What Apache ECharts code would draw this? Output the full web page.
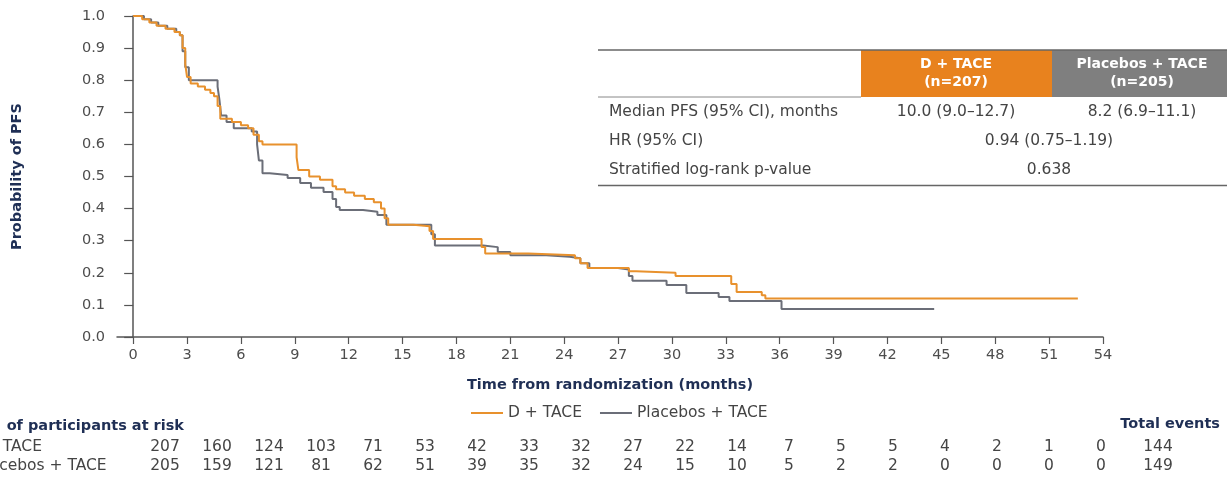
<!DOCTYPE html>
<html>
<head>
<meta charset="utf-8">
<script src="https://cdn.jsdelivr.net/npm/echarts@6/dist/echarts.min.js"></script>
<style>
  html, body { margin: 0; padding: 0; background: #ffffff; }
  #chart { width: 1227px; height: 484px; }
</style>
</head>
<body>
<div id="chart"></div>
<script>
// Kaplan–Meier progression-free survival, D + TACE vs placebos + TACE

// Step curves: [month, probability of PFS] at each drop
const dTace = [
  [0, 1.00], [0.5, 0.99], [0.9, 0.98], [1.3, 0.97], [1.8, 0.96], [2.3, 0.95], [2.6, 0.94],
  [2.75, 0.90], [2.9, 0.85], [3.0, 0.81], [3.2, 0.79], [3.6, 0.78], [4.0, 0.77], [4.3, 0.76],
  [4.5, 0.75], [4.7, 0.72], [4.85, 0.68], [5.5, 0.67], [6.0, 0.66], [6.4, 0.65], [6.7, 0.63],
  [7.0, 0.61], [7.2, 0.60], [9.1, 0.56], [9.2, 0.52], [9.8, 0.50], [10.4, 0.49], [11.1, 0.47],
  [11.3, 0.46], [11.8, 0.45], [12.3, 0.44], [12.9, 0.43], [13.4, 0.42], [13.8, 0.40], [14.0, 0.37],
  [14.2, 0.35], [15.6, 0.345], [16.5, 0.33], [16.7, 0.305], [19.4, 0.28], [19.6, 0.26],
  [22.0, 0.255], [24.6, 0.245], [24.9, 0.23], [25.3, 0.215], [27.6, 0.205], [28.0, 0.20],
  [30.2, 0.19], [33.3, 0.165], [33.6, 0.14], [35.0, 0.13], [35.2, 0.12], [52.6, 0.12]
];
const placeboTace = [
  [0, 1.00], [0.6, 0.99], [1.0, 0.98], [1.4, 0.97], [1.9, 0.96], [2.4, 0.95], [2.6, 0.94],
  [2.75, 0.89], [2.9, 0.84], [3.1, 0.80], [4.7, 0.78], [4.8, 0.74], [4.9, 0.69], [5.2, 0.67],
  [5.6, 0.65], [6.6, 0.64], [6.9, 0.60], [7.0, 0.55], [7.2, 0.51], [7.6, 0.505], [8.6, 0.495],
  [9.3, 0.48], [9.9, 0.465], [10.6, 0.452], [11.1, 0.43], [11.3, 0.405], [11.5, 0.396],
  [12.8, 0.39], [13.6, 0.38], [14.1, 0.35], [16.6, 0.32], [16.8, 0.285], [19.5, 0.28],
  [20.3, 0.265], [21.0, 0.255], [23.0, 0.25], [24.3, 0.245], [24.9, 0.23], [25.4, 0.215],
  [27.0, 0.21], [27.6, 0.19], [27.8, 0.175], [29.7, 0.162], [30.8, 0.137], [32.6, 0.125],
  [33.2, 0.112], [36.1, 0.087], [44.6, 0.087]
];

const seriesNames = ['D + TACE', 'Placebos + TACE'];
const xTicks = [0, 3, 6, 9, 12, 15, 18, 21, 24, 27, 30, 33, 36, 39, 42, 45, 48, 51, 54];

// Numbers at risk and total events
const atRiskD = [207, 160, 124, 103, 71, 53, 42, 33, 32, 27, 22, 14, 7, 5, 5, 4, 2, 1, 0];
const atRiskP = [205, 159, 121, 81, 62, 51, 39, 35, 32, 24, 15, 10, 5, 2, 2, 0, 0, 0, 0];
const totalEvents = [144, 149];

// Summary table
const tableHeader = ['D + TACE', '(n=207)', 'Placebos + TACE', '(n=205)'];
const rowLabels = ['Median PFS (95% CI), months', 'HR (95% CI)', 'Stratified log-rank p-value'];
const medianPfs = ['10.0 (9.0\u201312.7)', '8.2 (6.9\u201311.1)'];
const hazardRatio = '0.94 (0.75\u20131.19)';
const pValue = '0.638';

const FONT = 'DejaVu Sans';
const ORANGE = '#E8912D';
const GREY = '#6B6E78';
const NAVY = '#1F2F55';
const TEXT = '#444444';

const chart = echarts.init(document.getElementById('chart'), null, { renderer: 'canvas' });

function txt(x, y, text, opt) {
  return {
    type: 'text', x: x, y: y, silent: true,
    style: Object.assign({
      text: text, fill: TEXT, font: '15.5px "' + FONT + '"',
      textAlign: 'left', textVerticalAlign: 'middle'
    }, opt || {})
  };
}
function hline(x1, x2, y, color, w) {
  return { type: 'line', silent: true, shape: { x1: x1, y1: y, x2: x2, y2: y },
           style: { stroke: color, lineWidth: w } };
}

const graphics = [];

// Summary table (top right)
graphics.push({ type: 'rect', silent: true, shape: { x: 861, y: 50, width: 191, height: 47 }, style: { fill: '#E8821E' } });
graphics.push({ type: 'rect', silent: true, shape: { x: 1052, y: 50, width: 175, height: 47 }, style: { fill: '#7F7F7F' } });
graphics.push(hline(598, 1227, 50, '#666666', 1.5));
graphics.push(hline(598, 861, 97, '#888888', 1));
graphics.push(hline(598, 1227, 185.5, '#666666', 1.5));
const hdrFont = 'bold 14px "' + FONT + '"';
graphics.push(txt(956, 64, tableHeader[0], { fill: '#ffffff', font: hdrFont, textAlign: 'center' }));
graphics.push(txt(956, 82, tableHeader[1], { fill: '#ffffff', font: hdrFont, textAlign: 'center' }));
graphics.push(txt(1142, 64, tableHeader[2], { fill: '#ffffff', font: hdrFont, textAlign: 'center' }));
graphics.push(txt(1142, 82, tableHeader[3], { fill: '#ffffff', font: hdrFont, textAlign: 'center' }));
const rowY = [112, 141, 170];
rowLabels.forEach(function (l, i) { graphics.push(txt(609, rowY[i], l)); });
graphics.push(txt(956, rowY[0], medianPfs[0], { textAlign: 'center' }));
graphics.push(txt(1142, rowY[0], medianPfs[1], { textAlign: 'center' }));
graphics.push(txt(1049, rowY[1], hazardRatio, { textAlign: 'center' }));
graphics.push(txt(1049, rowY[2], pValue, { textAlign: 'center' }));

// Numbers at risk table (bottom)
const boldFont = 'bold 14.5px "' + FONT + '"';
graphics.push(txt(-26, 426, 'No. of participants at risk', { fill: NAVY, font: boldFont }));
graphics.push(txt(-32, 447, seriesNames[0]));
graphics.push(txt(-24, 466, seriesNames[1]));
const colStart = 165, colStep = 52;
atRiskD.forEach(function (v, i) {
  graphics.push(txt(colStart + i * colStep, 447, String(v), { textAlign: 'center' }));
});
atRiskP.forEach(function (v, i) {
  graphics.push(txt(colStart + i * colStep, 466, String(v), { textAlign: 'center' }));
});
graphics.push(txt(1220, 424, 'Total events', { fill: NAVY, font: boldFont, textAlign: 'right' }));
graphics.push(txt(1158, 447, String(totalEvents[0]), { textAlign: 'center' }));
graphics.push(txt(1158, 466, String(totalEvents[1]), { textAlign: 'center' }));

const option = {
  animation: false,
  backgroundColor: '#ffffff',
  textStyle: { fontFamily: FONT },
  grid: { left: 117, right: 124, top: 16, bottom: 147, containLabel: false },
  legend: {
    data: seriesNames,
    left: 466, top: 400,
    icon: 'rect', itemWidth: 32, itemHeight: 2, itemGap: 18,
    textStyle: { fontFamily: FONT, fontSize: 15.5, color: TEXT }
  },
  xAxis: {
    type: 'value', min: -0.9, max: 54,
    name: 'Time from randomization (months)',
    nameLocation: 'middle', nameGap: 41,
    nameTextStyle: { fontFamily: FONT, fontSize: 14.5, fontWeight: 'bold', color: NAVY },
    axisLine: { show: true, onZero: false, lineStyle: { color: '#555555', width: 1.5 } },
    axisTick: { show: true, inside: false, length: 7, customValues: xTicks, lineStyle: { color: '#555555', width: 1.2 } },
    axisLabel: { customValues: xTicks, margin: 11, fontFamily: FONT, fontSize: 14.5, color: '#4d4d4d' },
    splitLine: { show: false }
  },
  yAxis: {
    type: 'value', min: 0, max: 1, interval: 0.1,
    name: 'Probability of PFS',
    nameLocation: 'middle', nameGap: 92, nameRotate: 90,
    nameTextStyle: { fontFamily: FONT, fontSize: 14.5, fontWeight: 'bold', color: NAVY },
    axisLine: { show: true, lineStyle: { color: '#555555', width: 1.5 } },
    axisTick: { show: true, inside: false, length: 9, lineStyle: { color: '#555555', width: 1.2 } },
    axisLabel: { margin: 12, fontFamily: FONT, fontSize: 14.5, color: '#4d4d4d',
                 formatter: function (v) { return v.toFixed(1); } },
    splitLine: { show: false }
  },
  series: [
    {
      name: seriesNames[1], type: 'line', step: 'end', data: placeboTace,
      showSymbol: false, z: 2, itemStyle: { color: GREY },
      lineStyle: { color: GREY, width: 2 }
    },
    {
      name: seriesNames[0], type: 'line', step: 'end', data: dTace,
      showSymbol: false, z: 3, itemStyle: { color: ORANGE },
      lineStyle: { color: ORANGE, width: 2 }
    }
  ],
  graphic: graphics
};

chart.setOption(option);
</script>
</body>
</html>
